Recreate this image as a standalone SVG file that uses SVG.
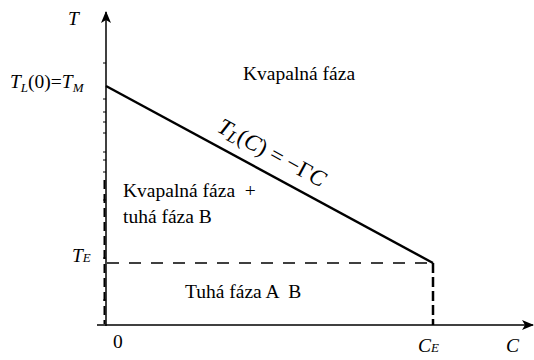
<svg xmlns="http://www.w3.org/2000/svg" width="534" height="360" viewBox="0 0 534 360">
<style>
.ax{stroke:#000;stroke-width:1.5;fill:none}
.dash{stroke:#000;stroke-width:1.5;stroke-dasharray:12 10;fill:none}
</style>
<defs>
<marker id="arr" viewBox="0 0 12 10" refX="11" refY="5" markerWidth="12" markerHeight="10" markerUnits="userSpaceOnUse" orient="auto">
<path d="M0,0 L12,5 L0,10 L3,5 Z" fill="#000"/>
</marker>
</defs>
<rect width="534" height="360" fill="#fff"/>
<g id="connectors">
<line class="ax" x1="106" y1="326" x2="106" y2="12" marker-end="url(#arr)"/>
<line class="ax" x1="97" y1="325" x2="533" y2="325" marker-end="url(#arr)"/>
<line x1="104.5" y1="180" x2="104.5" y2="324" stroke="#000" stroke-width="2" stroke-dasharray="9 5"/>
<path d="M103,63h3M103,99h3M103,112h3M103,122h3M103,133h3M103,152h3M103,160h3M103,172h3M103,200h3M103,258h3M103,300h3" stroke="#000" stroke-width="1"/>
<line x1="106" y1="86" x2="433" y2="263" stroke="#000" stroke-width="2.4"/>
<line class="dash" x1="107" y1="263" x2="433" y2="263"/>
<line x1="433" y1="263" x2="433" y2="325" stroke="#000" stroke-width="2.5" stroke-dasharray="10 4"/>
</g>
<g fill="#000">
<g id="axis-T"><text style="font-family:'Liberation Serif',serif;font-size:19.5px;font-style:italic" x="68" y="25">T</text></g>
<g id="axis-C"><text style="font-family:'Liberation Serif',serif;font-size:19.5px;font-style:italic" x="506" y="352">C</text></g>
<g id="label-TM"><text style="font-family:'Liberation Serif',serif;font-size:19.5px" x="10" y="88"><tspan font-style="italic">T</tspan><tspan font-style="italic" font-size="13" dy="4">L</tspan><tspan dy="-4">(0)=</tspan><tspan font-style="italic">T</tspan><tspan font-style="italic" font-size="13" dy="4">M</tspan></text></g>
<g id="label-TE"><text style="font-family:'Liberation Serif',serif;font-size:19.5px" x="72" y="262"><tspan font-style="italic">T</tspan><tspan font-style="italic" font-size="13">E</tspan></text></g>
<g id="label-0"><text style="font-family:'Liberation Serif',serif;font-size:19.5px" x="113" y="348">0</text></g>
<g id="label-CE"><text style="font-family:'Liberation Serif',serif;font-size:19.5px" x="418" y="352"><tspan font-style="italic">C</tspan><tspan font-style="italic" font-size="13">E</tspan></text></g>
<g id="region-liquid"><text style="font-family:'Liberation Serif',serif;font-size:19.5px" x="243" y="80">Kvapalná fáza</text></g>
<g id="region-mixed"><text style="font-family:'Liberation Serif',serif;font-size:19.5px" x="123" y="197">Kvapalná fáza &#160;+</text><text style="font-family:'Liberation Serif',serif;font-size:19.5px" x="123" y="223">tuhá fáza B</text></g>
<g id="region-solid"><text style="font-family:'Liberation Serif',serif;font-size:19.5px" x="185" y="298">Tuhá fáza A &#160;B</text></g>
<g id="liquidus-label"><text style="font-family:'Liberation Serif',serif;font-size:23px" transform="translate(216,131) rotate(28.4)"><tspan font-style="italic">T</tspan><tspan font-style="italic" font-size="17" dy="3">L</tspan><tspan dy="-3">(</tspan><tspan font-style="italic">C</tspan><tspan>) = −</tspan><tspan>Γ</tspan><tspan font-style="italic">C</tspan></text></g>
</g>
</svg>
